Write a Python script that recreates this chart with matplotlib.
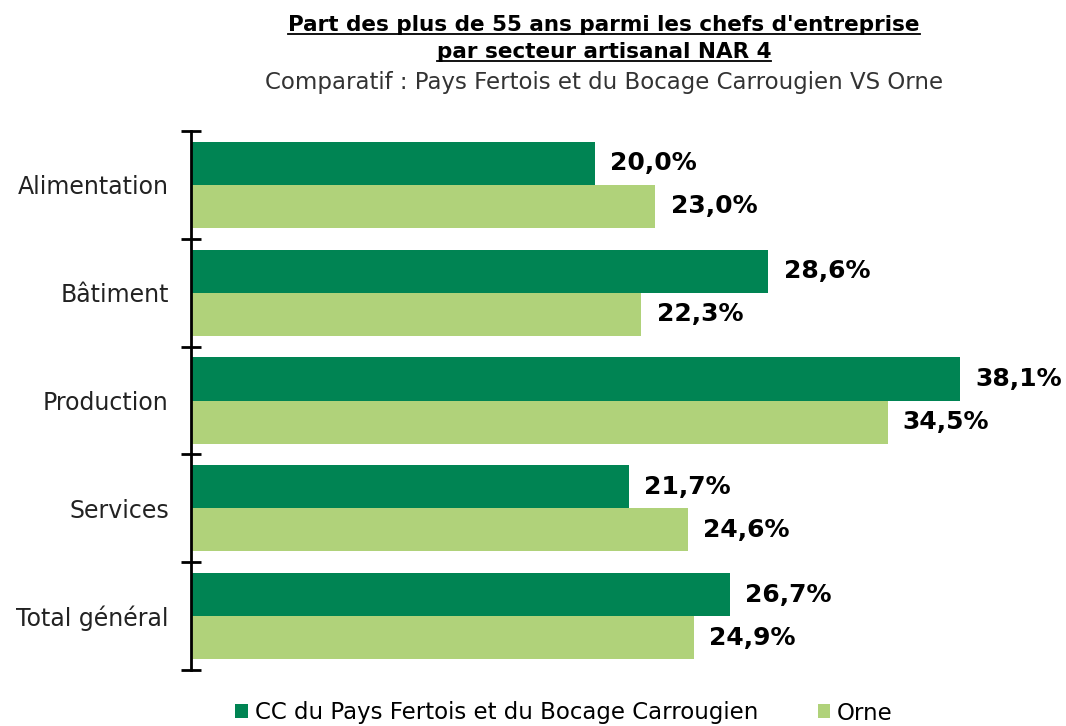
import matplotlib
matplotlib.use("Agg")
import matplotlib.pyplot as plt
import numpy as np

categories = ["Alimentation", "Bâtiment", "Production", "Services", "Total général"]
cc_values = [20.0, 28.6, 38.1, 21.7, 26.7]
orne_values = [23.0, 22.3, 34.5, 24.6, 24.9]
series_names = ["CC du Pays Fertois et du Bocage Carrougien", "Orne"]
title_lines = ["Part des plus de 55 ans parmi les chefs d'entreprise",
               "par secteur artisanal NAR 4"]
subtitle = "Comparatif : Pays Fertois et du Bocage Carrougien VS Orne"

dark = "#008453"
light = "#B0D27A"
font = "DejaVu Sans"
plt.rcParams['font.family'] = [font]

W, H = 1066, 726
fig = plt.figure(figsize=(W/100, H/100), dpi=100)
ax = fig.add_axes([191/W, 1-670/H, (1039-191)/W, (670-131)/H])

n = len(categories)
y = np.arange(n)
h = 0.4
ax.barh(y - h/2, cc_values, height=h, color=dark, label=series_names[0])
ax.barh(y + h/2, orne_values, height=h, color=light, label=series_names[1])
ax.set_ylim(n - 0.5, -0.5)
ax.set_xlim(0, 42)

for yi, v in zip(y, cc_values):
    ax.annotate(f"{v:.1f}%".replace('.', ','), (v, yi - h/2), xytext=(11, 0),
                textcoords='offset points', va='center', ha='left',
                fontsize=18, fontweight='bold', color='black')
for yi, v in zip(y, orne_values):
    ax.annotate(f"{v:.1f}%".replace('.', ','), (v, yi + h/2), xytext=(11, 0),
                textcoords='offset points', va='center', ha='left',
                fontsize=18, fontweight='bold', color='black')

for s in ['top', 'right', 'bottom']:
    ax.spines[s].set_visible(False)
ax.spines['left'].set_linewidth(2)
ax.set_xticks([])
ax.set_yticks(np.arange(-0.5, n, 1.0))
ax.set_yticklabels([])
ax.set_yticks(y, minor=True)
ax.set_yticklabels(categories, minor=True, fontsize=17, color='#222222')
ax.tick_params(axis='y', which='major', direction='inout', length=14, width=2)
ax.tick_params(axis='y', which='minor', length=0, pad=16)

# Title with underline
t1 = fig.text(604/W, 1-25/H, title_lines[0], ha='center', va='center',
              fontsize=15.5, fontweight='bold')
t2 = fig.text(604/W, 1-52/H, title_lines[1], ha='center', va='center',
              fontsize=15.5, fontweight='bold')
fig.text(604/W, 1-83/H, subtitle, ha='center', va='center', fontsize=16.5,
         color='#333333')
fig.canvas.draw()
r = fig.canvas.get_renderer()
for t in (t1, t2):
    bb = t.get_window_extent(r)
    yl = bb.y0 + 1
    fig.add_artist(plt.Line2D([bb.x0/W, bb.x1/W], [yl/H, yl/H],
                              transform=fig.transFigure, color='black', lw=1.3))

leg = fig.legend(loc='center', bbox_to_anchor=(564/W, 1-713/H), ncol=2,
                 frameon=False, fontsize=16.5, handlelength=0.55, handleheight=0.55,
                 handletextpad=0.3, columnspacing=2.6)

fig.savefig("out.png", dpi=100)
